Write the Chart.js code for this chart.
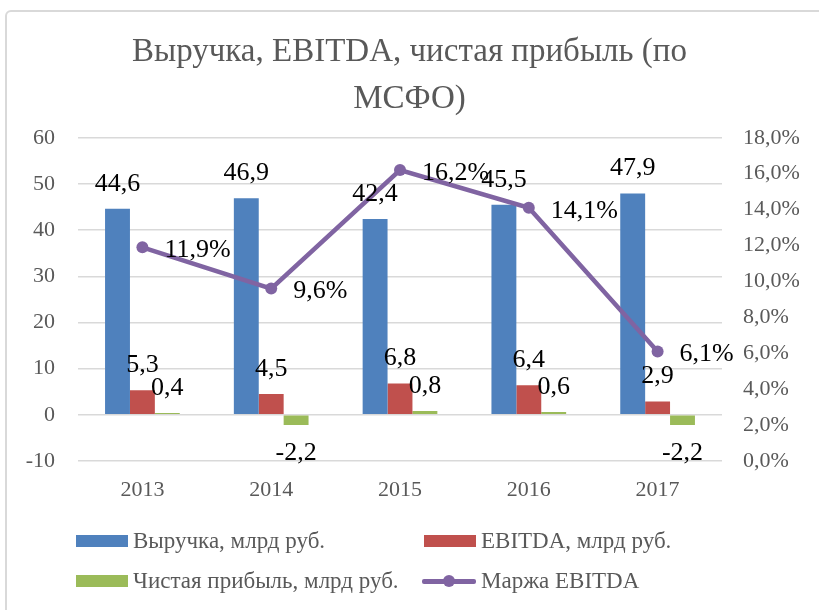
<!DOCTYPE html>
<html>
<head>
<meta charset="utf-8">
<script src="https://cdn.jsdelivr.net/npm/chart.js@4"></script>
<style>
  body { margin: 0; background: #fff; overflow: hidden; }
  #wrap { position: relative; width: 819px; height: 610px; overflow: hidden; }
  #frame { position: absolute; left: 5px; top: 10px; width: 840px; height: 640px;
           border: 2px solid #d9d9d9; border-radius: 6px; box-sizing: border-box; }
  #c { position: absolute; left: 0; top: 0; }
  .lg { position: absolute; font: 23px "Liberation Serif", "Times New Roman", serif; color: #595959;
        white-space: nowrap; line-height: 26px; }
  .sw { position: absolute; }
</style>
</head>
<body>
<div id="wrap">
  <div id="frame"></div>
  <canvas id="c" width="819" height="610"></canvas>
  <div id="legend"></div>
</div>
<script>
const years = ['2013', '2014', '2015', '2016', '2017'];
const revenue = [44.6, 46.9, 42.4, 45.5, 47.9];
const ebitda = [5.3, 4.5, 6.8, 6.4, 2.9];
const netProfit = [0.4, -2.2, 0.8, 0.6, -2.2];
const ebitdaMargin = [11.9, 9.6, 16.2, 14.1, 6.1];

const seriesNames = ['Выручка, млрд руб.', 'EBITDA, млрд руб.', 'Чистая прибыль, млрд руб.', 'Маржа EBITDA'];
const colors = ['#4f81bd', '#c0504d', '#9bbb59', '#8064a2'];
const FONT = '"Liberation Serif", "Times New Roman", serif';

const comma = v => v.toFixed(1).replace('.', ',');

// value labels like Excel data labels
const valueLabels = {
  id: 'valueLabels',
  afterDatasetsDraw(chart) {
    const ctx = chart.ctx;
    ctx.save();
    ctx.font = '26px ' + FONT;
    ctx.fillStyle = '#000';
    ctx.textBaseline = 'middle';
    chart.data.datasets.forEach((ds, i) => {
      const meta = chart.getDatasetMeta(i);
      meta.data.forEach((el, j) => {
        const v = ds.data[j];
        if (ds.type === 'line') {
          ctx.textAlign = 'left';
          ctx.fillText(comma(v) + '%', el.x + 22, el.y + 3);
        } else {
          ctx.textAlign = 'center';
          ctx.fillText(comma(v), el.x, v >= 0 ? el.y - 25 : el.y + 28);
        }
      });
    });
    ctx.restore();
  }
};

new Chart(document.getElementById('c'), {
  type: 'bar',
  data: {
    labels: years,
    datasets: [
      { label: seriesNames[0], data: revenue, backgroundColor: colors[0], yAxisID: 'y', order: 1 },
      { label: seriesNames[1], data: ebitda, backgroundColor: colors[1], yAxisID: 'y', order: 1 },
      { label: seriesNames[2], data: netProfit, backgroundColor: colors[2], yAxisID: 'y', order: 1 },
      {
        type: 'line', label: seriesNames[3], data: ebitdaMargin, yAxisID: 'y1', order: 0,
        borderColor: colors[3], backgroundColor: colors[3], borderWidth: 4.5,
        pointRadius: 6, pointBackgroundColor: colors[3], pointBorderWidth: 0, tension: 0
      }
    ]
  },
  options: {
    responsive: false,
    animation: false,
    datasets: { bar: { categoryPercentage: 0.58, barPercentage: 1 } },
    layout: { padding: { top: 0, bottom: 0, left: 0, right: 0 } },
    plugins: {
      legend: { display: false },
      tooltip: { enabled: false },
      title: {
        display: true,
        text: ['Выручка, EBITDA, чистая прибыль (по', 'МСФО)'],
        color: '#595959',
        font: { family: FONT, size: 33, weight: 'normal', lineHeight: 1.42 },
        padding: { top: 29, bottom: 15 }
      }
    },
    scales: {
      x: {
        grid: { display: false, drawTicks: false },
        border: { display: false },
        ticks: { color: '#595959', font: { family: FONT, size: 22 }, padding: 16 },
        afterFit(scale) { scale.height = 149; }
      },
      y: {
        position: 'left', min: -10, max: 60,
        ticks: { stepSize: 10, color: '#595959', font: { family: FONT, size: 22 }, padding: 23 },
        grid: { color: '#d9d9d9', lineWidth: 1.5, drawTicks: false },
        border: { display: false },
        afterFit(scale) { scale.width = 78; }
      },
      y1: {
        position: 'right', min: 0, max: 18,
        ticks: { stepSize: 2, color: '#595959', font: { family: FONT, size: 22 }, padding: 21,
                 callback: v => comma(v) + '%' },
        grid: { display: false, drawTicks: false },
        border: { display: false },
        afterFit(scale) { scale.width = 97; }
      }
    }
  },
  plugins: [valueLabels]
});

// legend below the chart, two columns
const legend = document.getElementById('legend');
const legendPos = [[76, 541], [424, 541], [76, 581], [424, 581]];
seriesNames.forEach((name, i) => {
  const [x, cy] = legendPos[i];
  if (i < 3) {
    const sw = document.createElement('div');
    sw.className = 'sw';
    sw.style.cssText = `left:${x}px;top:${cy - 6}px;width:52px;height:12px;background:${colors[i]}`;
    legend.appendChild(sw);
  } else {
    const ln = document.createElement('div');
    ln.className = 'sw';
    ln.style.cssText = `left:${x - 2}px;top:${cy - 2}px;width:54px;height:4.5px;background:${colors[i]};border-radius:2px`;
    legend.appendChild(ln);
    const dot = document.createElement('div');
    dot.className = 'sw';
    dot.style.cssText = `left:${x + 19}px;top:${cy - 6}px;width:12px;height:12px;border-radius:50%;background:${colors[i]}`;
    legend.appendChild(dot);
  }
  const t = document.createElement('div');
  t.className = 'lg';
  t.textContent = name;
  t.style.left = (x + 57) + 'px';
  t.style.top = (cy - 13) + 'px';
  legend.appendChild(t);
});
</script>
</body>
</html>
